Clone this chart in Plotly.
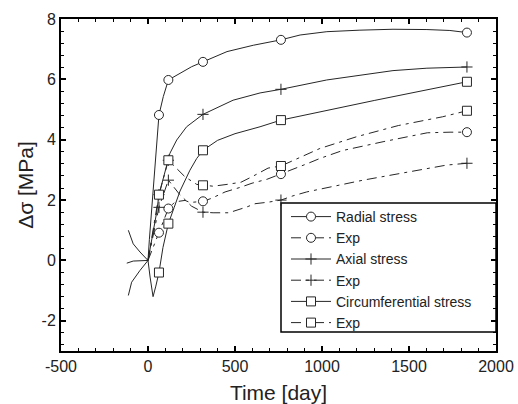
import plotly.graph_objects as go

# Times (days) at which the symbols are placed on every curve
MARK_T = [63, 117, 316, 764, 1833]

# Simulated radial stress change
rad_t = [-113, -85, -46, 0, 8, 30, 50, 63, 88, 117, 184, 251, 316, 454, 605, 764,
         874, 1028, 1218, 1408, 1603, 1735, 1833]
rad_v = [1.0, 0.55, 0.28, 0, 0.7, 2.4, 3.7, 4.82, 5.43, 5.98, 6.2, 6.42, 6.58, 6.92,
         7.13, 7.31, 7.47, 7.58, 7.63, 7.66, 7.65, 7.62, 7.55]

# Simulated axial stress change
ax_t = [-122, -85, 0, 30, 50, 63, 90, 117, 126, 165, 222, 316, 489, 644, 764, 1027,
        1408, 1603, 1833]
ax_v = [-0.09, -0.02, 0, 0.9, 1.6, 2.18, 2.8, 3.32, 3.55, 3.99, 4.43, 4.84, 5.31,
        5.55, 5.67, 5.98, 6.29, 6.37, 6.41]

# Simulated circumferential stress change
ci_t = [-113, -94, -46, 0, 12, 22, 29, 45, 63, 86, 117, 150, 184, 241, 280, 316,
        400, 500, 644, 764, 1300, 1833]
ci_v = [-1.16, -0.72, -0.33, 0, -0.55, -1.0, -1.2, -0.85, -0.4, 0.43, 1.22, 1.75,
        2.3, 2.99, 3.38, 3.65, 3.98, 4.2, 4.43, 4.65, 5.3, 5.92]

# Measured radial stress change
rx_t = [0, 63, 117, 155, 213, 241, 316, 366, 443, 529, 598, 684, 764, 921, 988,
        1117, 1356, 1605, 1736, 1833]
rx_v = [0, 0.92, 1.72, 1.94, 1.99, 1.92, 1.96, 2.06, 2.27, 2.42, 2.56, 2.69, 2.86,
        3.22, 3.38, 3.64, 3.94, 4.23, 4.25, 4.25]

# Measured axial stress change
axx_t = [0, 63, 117, 180, 250, 316, 374, 464, 567, 615, 690, 764, 833, 912, 1236,
         1544, 1716, 1833]
axx_v = [0, 1.76, 2.66, 2.2, 1.8, 1.6, 1.58, 1.58, 1.77, 1.88, 1.93, 2.0, 2.14, 2.27,
         2.66, 2.99, 3.16, 3.22]

# Measured circumferential stress change
cx_t = [0, 63, 117, 155, 213, 280, 316, 374, 454, 534, 603, 690, 764, 921, 988,
        1199, 1439, 1693, 1833]
cx_v = [0, 2.18, 3.32, 3.1, 2.77, 2.52, 2.49, 2.46, 2.52, 2.59, 2.79, 3.06, 3.13,
        3.54, 3.71, 4.10, 4.47, 4.76, 4.96]

X_TICKS = [-500, 0, 500, 1000, 1500, 2000]
Y_TICKS = [-2, 0, 2, 4, 6, 8]

INK = "#262626"
DASHDOT = "10px,5px,3px,5px"
FONT = "Liberation Sans, Arial, sans-serif"

series = [
    ("Radial stress", rad_t, rad_v, "circle", "solid"),
    ("Exp", rx_t, rx_v, "circle", DASHDOT),
    ("Axial stress", ax_t, ax_v, "cross-thin", "solid"),
    ("Exp", axx_t, axx_v, "cross-thin", DASHDOT),
    ("Circumferential stress", ci_t, ci_v, "square", "solid"),
    ("Exp", cx_t, cx_v, "square", DASHDOT),
]


def marker_style(symbol):
    if symbol == "cross-thin":
        return dict(symbol=symbol, size=8, color=INK, line=dict(color=INK, width=1))
    return dict(symbol=symbol, size=9, color="white", line=dict(color=INK, width=1))


fig = go.Figure()

# curves
for i, (name, t, v, sym, dash) in enumerate(series):
    fig.add_trace(go.Scatter(
        x=t, y=v, mode="lines", line=dict(color=INK, width=1, dash=dash),
        legendgroup=str(i), showlegend=False, hoverinfo="skip"))

# symbols on the curves
for i, (name, t, v, sym, dash) in enumerate(series):
    lookup = dict(zip(t, v))
    fig.add_trace(go.Scatter(
        x=MARK_T, y=[lookup[m] for m in MARK_T], mode="markers",
        marker=marker_style(sym), legendgroup=str(i), showlegend=False))

# legend entries
for i, (name, t, v, sym, dash) in enumerate(series):
    fig.add_trace(go.Scatter(
        x=[None], y=[None], mode="lines+markers", name=name,
        line=dict(color=INK, width=1, dash=dash), marker=marker_style(sym),
        legendgroup=str(i), showlegend=True))

axis_common = dict(
    showline=True, linecolor="black", linewidth=2, mirror="allticks",
    ticks="inside", ticklen=5, tickwidth=1.5, tickcolor="black",
    showgrid=False, zeroline=False, automargin=False,
    tickfont=dict(family=FONT, size=16, color="#222"),
    title_font=dict(family=FONT, size=21, color="#222"),
)

fig.update_xaxes(
    range=[-500, 2000], tickvals=X_TICKS, ticktext=[str(x) for x in X_TICKS],
    minor=dict(dtick=100, tick0=0, ticks="inside", ticklen=3, tickwidth=1.2,
               tickcolor="black"),
    title_text="Time [day]", title_standoff=11, **axis_common)
fig.update_yaxes(
    range=[-3, 8], tickvals=Y_TICKS, ticktext=[str(y) for y in Y_TICKS],
    minor=dict(dtick=0.4, tick0=0, ticks="inside", ticklen=3, tickwidth=1.2,
               tickcolor="black"),
    title_text="Δσ [MPa]", title_standoff=2, **axis_common)

# legend frame, reaching the right edge of the plot area
fig.add_shape(type="rect", xref="paper", yref="paper",
              x0=(281 - 61) / 435, x1=1.0,
              y0=(351 - 332) / 332, y1=(351 - 203) / 332,
              line=dict(color="black", width=1.5), fillcolor="white", layer="below")

fig.update_layout(
    width=518, height=404,
    margin=dict(l=61, r=22, t=19, b=53),
    paper_bgcolor="white", plot_bgcolor="white",
    font=dict(family=FONT, size=14, color="#222"),
    legend=dict(
        x=(286 - 61) / 435, xanchor="left", y=(351 - 201) / 332, yanchor="top",
        bgcolor="rgba(0,0,0,0)", borderwidth=0,
        font=dict(family=FONT, size=14, color="#222"),
        itemwidth=40, tracegroupgap=0,
    ),
)

fig.write_html("out.html")
